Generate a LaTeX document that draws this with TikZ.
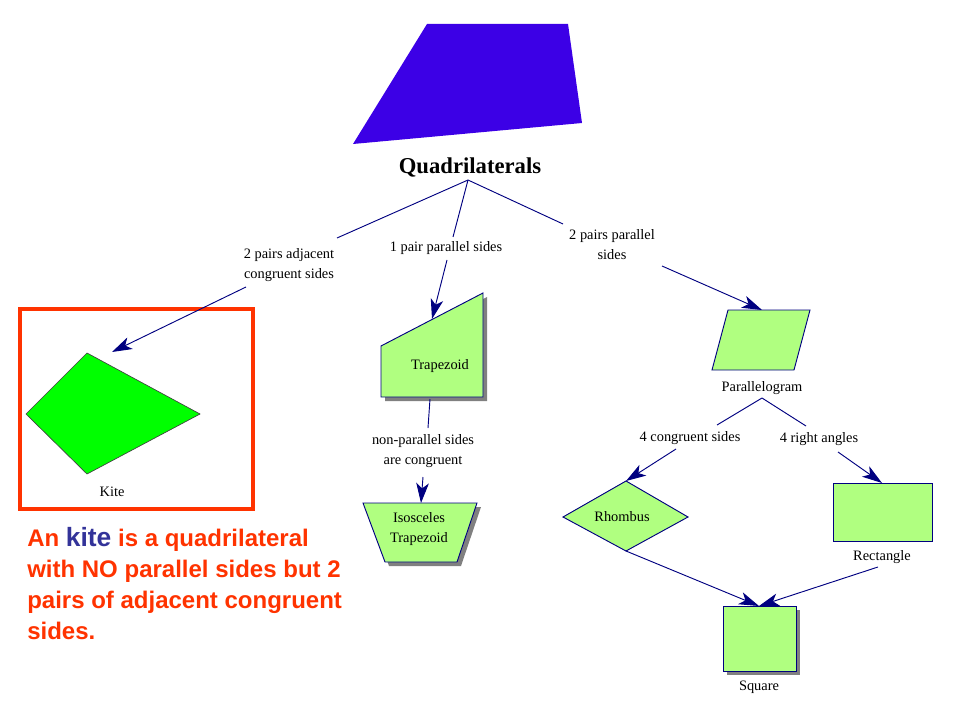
\documentclass[tikz,border=0pt]{standalone}
\usepackage{fontspec}
\setmainfont{Liberation Serif}
\newfontfamily\arialfont{Liberation Sans}
\usetikzlibrary{arrows.meta}

\definecolor{quadblue}{RGB}{60,0,230}
\definecolor{shapegreen}{RGB}{176,255,128}
\definecolor{kitegreen}{RGB}{0,255,0}
\definecolor{linenavy}{RGB}{0,0,128}
\definecolor{notered}{RGB}{255,51,0}
\definecolor{kiteblue}{RGB}{51,51,153}

\tikzset{
  conn/.style={draw=linenavy, line width=0.7pt},
  arr/.style={conn, -{Stealth[length=15pt, width=9.5pt, inset=4pt]}},
  shp/.style={draw=linenavy, fill=shapegreen, line width=0.7pt},
  shd/.style={fill=black!50, draw=none, shift={(4,4)}},
  lbl/.style={font=\fontsize{10.8}{15}\selectfont, align=center, inner sep=1pt},
}

\begin{document}
\begin{tikzpicture}[x=0.75pt, y=-0.75pt]
    \useasboundingbox (0,0) rectangle (960,720);

    \fill[quadblue] (427,24) -- (568,24) -- (582,123) -- (353,144) -- cycle;
    \node[font=\fontsize{17}{20}\selectfont\bfseries] (quad) at (470,167) {Quadrilaterals};
    \coordinate (qfork) at (468,180);

    \node[lbl] (adjlbl) at (289,265) {2 pairs adjacent\\congruent sides};
    \node[lbl] (onelbl) at (446,248) {1 pair parallel sides};
    \node[lbl] (twolbl) at (612,245) {2 pairs parallel\\sides};
    \coordinate (adjin) at (337,238);
    \coordinate (adjout) at (246,287);
    \coordinate (onein) at (453,237);
    \coordinate (oneout) at (447,260);
    \coordinate (twoin) at (563,224);
    \coordinate (twoout) at (662,266);
    \draw[conn] (qfork) -- (adjin);
    \draw[conn] (qfork) -- (onein);
    \draw[conn] (qfork) -- (twoin);

    % kite
    \draw[notered, line width=3pt] (19.5,309) rectangle (253,509);
    \coordinate (kitetop) at (87,353);
    \coordinate (kiteright) at (200,414);
    \coordinate (kitebot) at (87,474);
    \coordinate (kiteleft) at (26,414);
    \filldraw[fill=kitegreen, draw=black!75, line width=0.5pt] (kitetop) -- (kiteright) -- (kitebot) -- (kiteleft) -- cycle;
    \node[lbl] (kitelbl) at (112,492) {Kite};
    \coordinate (kitetip) at (112,352);
    \draw[arr] (adjout) -- (kitetip);

    % trapezoid
    \fill[shd] (381,346) -- (483,293) -- (483,397) -- (381,397) -- cycle;
    \draw[shp] (381,346) -- (483,293) -- (483,397) -- (381,397) -- cycle;
    \node[lbl] (traplbl) at (440,366) {Trapezoid};
    \coordinate (traptip) at (432,319);
    \coordinate (trapbot) at (430,399);
    \draw[arr] (oneout) -- (traptip);

    \node[lbl] (neqlbl) at (423,451) {non-parallel sides\\are congruent};
    \coordinate (neqin) at (428,428);
    \coordinate (neqout) at (423,477);
    \coordinate (isotip) at (421,503);
    \draw[conn] (trapbot) -- (neqin);
    \draw[arr] (neqout) -- (isotip);

    \fill[shd] (363,503) -- (477,503) -- (457,562) -- (385,562) -- cycle;
    \draw[shp] (363,503) -- (477,503) -- (457,562) -- (385,562) -- cycle;
    \node[lbl] (isolbl) at (419,529) {Isosceles\\Trapezoid};

    % parallelogram
    \draw[shp] (728,310) -- (810,310) -- (794,370) -- (712,370) -- cycle;
    \coordinate (paratip) at (762,310);
    \draw[arr] (twoout) -- (paratip);
    \node[lbl] (paralbl) at (762,388) {Parallelogram};
    \coordinate (parafork) at (762,398);

    \node[lbl] (fourlbl) at (690,438) {4 congruent sides};
    \node[lbl] (rightlbl) at (819,439) {4 right angles};
    \coordinate (fourin) at (717,425);
    \coordinate (fourout) at (676,449);
    \coordinate (rightin) at (806,426);
    \coordinate (rightout) at (838,452);
    \draw[conn] (parafork) -- (fourin);
    \draw[conn] (parafork) -- (rightin);

    % rhombus
    \coordinate (rhotop) at (626,481);
    \coordinate (rhoright) at (688,517);
    \coordinate (rhobot) at (626,551);
    \coordinate (rholeft) at (563,517);
    \fill[shd] (rhotop) -- (rhoright) -- (rhobot) -- (rholeft) -- cycle;
    \draw[shp] (rhotop) -- (rhoright) -- (rhobot) -- (rholeft) -- cycle;
    \node[lbl] (rholbl) at (622,517) {Rhombus};
    \draw[arr] (fourout) -- (rhotop);

    % rectangle
    \draw[shp] (833,483) rectangle (932,541);
    \coordinate (recttip) at (882,483);
    \draw[arr] (rightout) -- (recttip);
    \node[lbl] (rectlbl) at (882,557) {Rectangle};
    \coordinate (rectout) at (878,567);

    % square
    \fill[shd] (723,606) rectangle (796,671);
    \draw[shp] (723,606) rectangle (796,671);
    \coordinate (sqtip) at (759,606);
    \node[lbl] (sqlbl) at (759,687) {Square};
    \draw[arr] (rhobot) -- (sqtip);
    \draw[arr] (rectout) -- (sqtip);

    \node[anchor=west, align=left, inner sep=0pt, text=notered, font=\arialfont\fontsize{18}{23.25}\selectfont\bfseries] (note) at (27,584)
      {An {\fontsize{19.8}{23.25}\selectfont\color{kiteblue}kite} is a quadrilateral\\with NO parallel sides but 2\\pairs of adjacent congruent\\sides.};
\end{tikzpicture}
\end{document}
